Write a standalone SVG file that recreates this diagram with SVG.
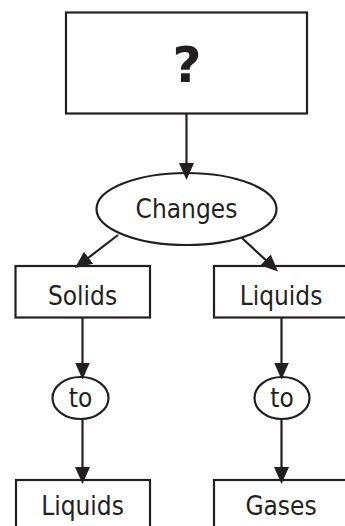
<svg xmlns="http://www.w3.org/2000/svg" width="345" height="526" viewBox="0 0 345 526">
<style>
.box{fill:#fff;stroke:#231f20;stroke-width:2.2}
.lbl{font-family:"DejaVu Sans Condensed","DejaVu Sans",sans-serif;font-size:26px;fill:#231f20;text-anchor:middle}
.q{font-family:"DejaVu Sans","Liberation Sans",sans-serif;font-weight:bold;font-size:50px;fill:#231f20;text-anchor:middle}
.con line{stroke:#231f20;stroke-width:2.2;marker-end:url(#ah)}
</style>
<defs>
<marker id="ah" markerUnits="userSpaceOnUse" markerWidth="17" markerHeight="15" refX="13" refY="7.5" orient="auto">
<path d="M0,0 L17,7.5 L0,15 z" fill="#231f20"/>
</marker>
</defs>
<rect width="345" height="526" fill="#fff"/>
<g id="top">
<rect class="box" x="66" y="12.5" width="241" height="101"/>
<text class="q" x="187" y="82">?</text>
</g>
<g id="changes">
<ellipse class="box" cx="186.5" cy="209" rx="90" ry="36"/>
<text class="lbl" x="186.5" y="218">Changes</text>
</g>
<g id="solids">
<rect class="box" x="15.5" y="266" width="134.5" height="51.5"/>
<text class="lbl" x="82.5" y="305">Solids</text>
</g>
<g id="liquids1">
<rect class="box" x="214" y="266" width="140" height="51.5"/>
<text class="lbl" x="281" y="305">Liquids</text>
</g>
<g id="to1">
<ellipse class="box" cx="80.5" cy="398" rx="28" ry="21"/>
<text class="lbl" x="80.5" y="407">to</text>
</g>
<g id="to2">
<ellipse class="box" cx="282" cy="398" rx="27.5" ry="21"/>
<text class="lbl" x="282" y="407">to</text>
</g>
<g id="liquids2">
<rect class="box" x="16" y="480" width="134" height="60"/>
<text class="lbl" x="82.5" y="515">Liquids</text>
</g>
<g id="gases">
<rect class="box" x="214" y="480" width="140" height="60"/>
<text class="lbl" x="281" y="515">Gases</text>
</g>
<g id="connectors" class="con">
<line x1="186.5" y1="113.5" x2="186.5" y2="176"/>
<line x1="118" y1="235" x2="78.2" y2="265.6"/>
<line x1="242" y1="238" x2="275.1" y2="268.8"/>
<line x1="82.5" y1="317.5" x2="82.5" y2="375.5"/>
<line x1="82.5" y1="419" x2="82.5" y2="480"/>
<line x1="281.5" y1="317.5" x2="281.5" y2="375.5"/>
<line x1="281.5" y1="419" x2="281.5" y2="480"/>
</g>
</svg>
